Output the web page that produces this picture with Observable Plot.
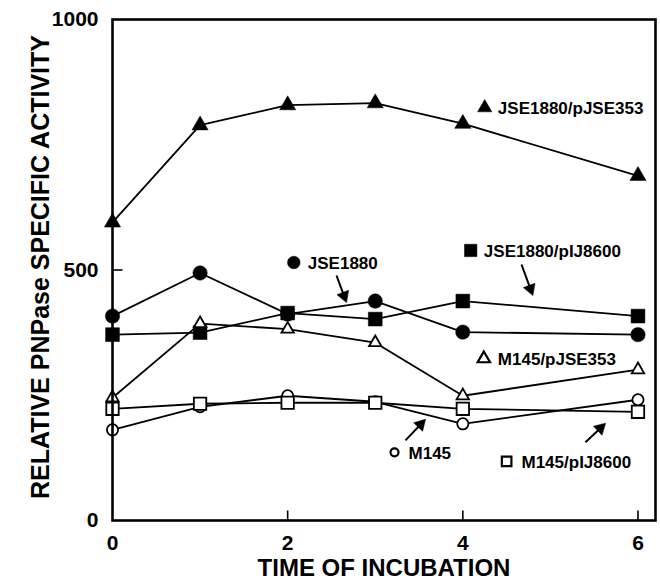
<!DOCTYPE html>
<html><head><meta charset="utf-8">
<script src="https://cdn.jsdelivr.net/npm/d3@7"></script>
<script src="https://cdn.jsdelivr.net/npm/@observablehq/plot@0.6"></script>
<style>
body{margin:0;background:#fff}
#chart{width:660px;height:584px}
</style>
</head><body><div id="chart"></div>
<script>
// ---- data ----
const times = [0, 1, 2, 3, 4, 6];
const seriesNames = ["JSE1880/pJSE353", "JSE1880", "JSE1880/pIJ8600", "M145/pJSE353", "M145", "M145/pIJ8600"];
const valsJSE1880_pJSE353 = [595, 789, 829, 833, 792, 688];
const valsJSE1880         = [408, 494, 412, 438, 376, 371];
const valsJSE1880_pIJ8600 = [371, 375, 414, 402, 438, 408];
const valsM145_pJSE353    = [245, 393, 382, 355, 249, 301];
const valsM145            = [181, 227, 249, 237, 193, 241];
const valsM145_pIJ8600    = [223, 233, 235, 235, 223, 217];
const xTicks = [0, 2, 4, 6];
const yTicks = [0, 500, 1000];
const xTitle = "TIME OF INCUBATION";
const yTitle = "RELATIVE PNPase SPECIFIC ACTIVITY";

// ---- styles ----
const seriesStyle = {
  "JSE1880/pJSE353": {symbol: "triangle", filled: true,  r: 6.0, lr: 5.3},
  "JSE1880":         {symbol: "circle",   filled: true,  r: 7.2, lr: 6.3},
  "JSE1880/pIJ8600": {symbol: "square",   filled: true,  r: 7.8, lr: 7.0},
  "M145/pJSE353":    {symbol: "triangle", filled: false, r: 4.6, lr: 4.6},
  "M145":            {symbol: "circle",   filled: false, r: 5.6, lr: 4.0},
  "M145/pIJ8600":    {symbol: "square",   filled: false, r: 7.0, lr: 5.4}
};
// annotation layout (data units): legend marker position and text start
const labelLayout = [
  {series: "JSE1880/pJSE353", mx: 4.25, my: 824, tx: 4.40},
  {series: "JSE1880",         mx: 2.07, my: 515, tx: 2.23},
  {series: "JSE1880/pIJ8600", mx: 4.09, my: 539, tx: 4.24},
  {series: "M145/pJSE353",    mx: 4.24, my: 323, tx: 4.40},
  {series: "M145",            mx: 3.22, my: 136, tx: 3.38},
  {series: "M145/pIJ8600",    mx: 4.50, my: 118, tx: 4.67}
];
const arrowLayout = [
  {x1: 2.558, y1: 489, x2: 2.672, y2: 435},
  {x1: 4.670, y1: 511, x2: 4.800, y2: 449},
  {x1: 3.345, y1: 160, x2: 3.574, y2: 202},
  {x1: 5.400, y1: 156, x2: 5.630, y2: 194}
];

const allVals = [valsJSE1880_pJSE353, valsJSE1880, valsJSE1880_pIJ8600, valsM145_pJSE353, valsM145, valsM145_pIJ8600];
const rows = [];
seriesNames.forEach((name, i) => times.forEach((t, j) => rows.push({series: name, time: t, value: allVals[i][j]})));

const FONT = "'Liberation Sans', Arial, Helvetica, sans-serif";
const W = 660, H = 584, ML = 112, MR = 5, MT = 19, MB = 64;
const TICK = 10;
const base = {
  width: W, height: H,
  marginLeft: ML, marginRight: MR, marginTop: MT, marginBottom: MB,
  x: {domain: [0, 6.2]},
  y: {domain: [0, 1000]},
  style: {fontFamily: FONT, background: "white", color: "black"}
};

// probe scales to orient arrowheads and size ticks in screen space
const probe = Plot.plot({...base, marks: [Plot.frame()]});
const sx = probe.scale("x"), sy = probe.scale("y");
const HEAD_R = 4.6;
const HEAD_BACK = 2 * HEAD_R * Math.sqrt(Math.PI / (3 * Math.sqrt(3)));
const heads = arrowLayout.map(a => {
  const p1 = [sx.apply(a.x1), sy.apply(a.y1)];
  const p2 = [sx.apply(a.x2), sy.apply(a.y2)];
  const dx = p2[0] - p1[0], dy = p2[1] - p1[1];
  const L = Math.hypot(dx, dy);
  const ux = dx / L, uy = dy / L;
  const cx = p2[0] - ux * HEAD_BACK, cy = p2[1] - uy * HEAD_BACK;
  return {
    x1: a.x1, y1: a.y1,
    cx: sx.invert(cx), cy: sy.invert(cy),
    rot: Math.atan2(ux, -uy) * 180 / Math.PI
  };
});
const yTickEnd = sy.invert(sy.apply(0) - TICK);
const xTickEnd = sx.invert(sx.apply(0) + TICK);

const marks = [];
// inward ticks
marks.push(Plot.link(xTicks.filter(d => d > 0), {x1: d => d, x2: d => d, y1: () => 0, y2: () => yTickEnd, stroke: "black", strokeWidth: 1.6}));
marks.push(Plot.link(yTicks.filter(d => d > 0 && d < 1000), {y1: d => d, y2: d => d, x1: () => 0, x2: () => xTickEnd, stroke: "black", strokeWidth: 1.6}));
// lines
for (const name of seriesNames) {
  marks.push(Plot.line(rows.filter(d => d.series === name), {x: "time", y: "value", stroke: "black", strokeWidth: 1.8}));
}
// markers
for (const name of seriesNames) {
  const s = seriesStyle[name];
  marks.push(Plot.dot(rows.filter(d => d.series === name), {
    x: "time", y: "value", symbol: () => s.symbol, r: s.r,
    fill: s.filled ? "black" : "white", stroke: "black", strokeWidth: s.filled ? 0.5 : 1.8
  }));
}
// annotation markers and texts
for (const lab of labelLayout) {
  const s = seriesStyle[lab.series];
  marks.push(Plot.dot([lab], {
    x: "mx", y: "my", symbol: () => s.symbol, r: s.lr,
    fill: s.filled ? "black" : "white", stroke: "black", strokeWidth: s.filled ? 0.5 : 2.2
  }));
}
marks.push(Plot.text(labelLayout, {
  x: "tx", y: "my", text: "series", textAnchor: "start", lineAnchor: "middle",
  fontSize: 17, fontWeight: "bold", fill: "black", dy: 1
}));
// arrows
marks.push(Plot.link(heads, {x1: "x1", y1: "y1", x2: "cx", y2: "cy", stroke: "black", strokeWidth: 2}));
marks.push(Plot.dot(heads, {x: "cx", y: "cy", symbol: "triangle", r: HEAD_R, rotate: "rot", fill: "black", stroke: "black", strokeWidth: 0.5}));
// axes (labels only; ticks drawn inward above)
marks.push(Plot.axisX({ticks: xTicks, tickSize: 0, tickPadding: 15, tickFormat: d => String(d), fontSize: 21, fontWeight: "bold", label: null}));
marks.push(Plot.axisY({ticks: yTicks, tickSize: 0, tickPadding: 14, tickFormat: d => String(d), fontSize: 21, fontWeight: "bold", label: null}));
// frame
marks.push(Plot.frame({stroke: "black", strokeWidth: 2.6}));
// axis titles
marks.push(Plot.text([xTitle], {frameAnchor: "bottom", text: d => d, dy: 48, fontSize: 24, fontWeight: "bold", fill: "black", textAnchor: "middle", lineAnchor: "middle"}));
marks.push(Plot.text([yTitle], {frameAnchor: "left", text: d => d, dx: -72, dy: -3, rotate: -90, fontSize: 25, fontWeight: "bold", fill: "black", textAnchor: "middle", lineAnchor: "middle"}));

const chart = Plot.plot({...base, marks});
document.getElementById("chart").appendChild(chart);
</script>
</body></html>
